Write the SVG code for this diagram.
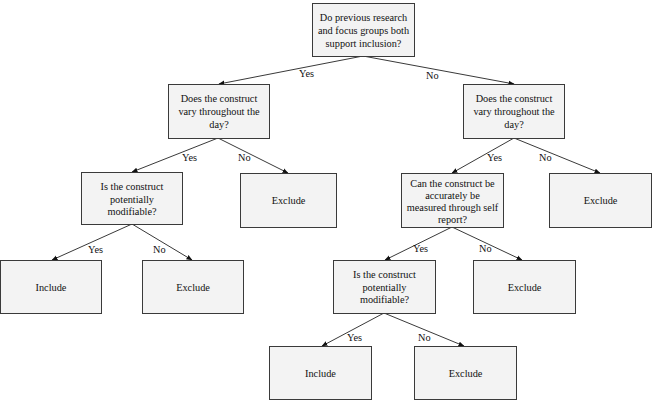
<svg xmlns="http://www.w3.org/2000/svg" width="654" height="403" viewBox="0 0 654 403">
<defs>
<marker id="ah" markerWidth="6" markerHeight="6" refX="5.5" refY="3" orient="auto" markerUnits="userSpaceOnUse">
<path d="M0,0.6 L6,3 L0,5.4 Z" fill="#111"/>
</marker>
<style>
.box{fill:#f3f3f3;stroke:#3a3a3a;stroke-width:1}
text{font-family:'Liberation Serif','Times New Roman',serif;font-size:10.3px;fill:#111}
.t{text-anchor:middle}
.c{stroke:#222;stroke-width:0.9;fill:none;marker-end:url(#ah)}
</style>
</defs>
<rect width="654" height="403" fill="#fff"/>
<g id="connectors">
<line class="c" x1="363" y1="56" x2="219" y2="84"/>
<line class="c" x1="363" y1="56" x2="514" y2="84"/>
<line class="c" x1="218" y1="138" x2="132" y2="172"/>
<line class="c" x1="218" y1="138" x2="288" y2="173"/>
<line class="c" x1="514" y1="138" x2="452" y2="173"/>
<line class="c" x1="514" y1="138" x2="600" y2="173"/>
<line class="c" x1="132" y1="224" x2="52" y2="260"/>
<line class="c" x1="132" y1="224" x2="192" y2="260"/>
<line class="c" x1="452" y1="227" x2="385" y2="260"/>
<line class="c" x1="452" y1="227" x2="522" y2="260"/>
<line class="c" x1="384" y1="313" x2="322" y2="346"/>
<line class="c" x1="384" y1="313" x2="464" y2="346"/>
<text x="299" y="77">Yes</text>
<text x="426" y="79">No</text>
<text x="182" y="161">Yes</text>
<text x="238" y="161">No</text>
<text x="487" y="161">Yes</text>
<text x="539" y="161">No</text>
<text x="88" y="253">Yes</text>
<text x="153" y="253">No</text>
<text x="413" y="252">Yes</text>
<text x="479" y="252">No</text>
<text x="347" y="341">Yes</text>
<text x="418" y="341">No</text>
</g>
<g id="n-root">
<rect class="box" x="312.5" y="3.5" width="102" height="53"/>
<text class="t" x="363.5" y="21">Do previous research</text>
<text class="t" x="363.5" y="34">and focus groups both</text>
<text class="t" x="363.5" y="47">support inclusion?</text>
</g>
<g id="n-vary-left">
<rect class="box" x="168.5" y="84.5" width="101" height="54"/>
<text class="t" x="219" y="102">Does the construct</text>
<text class="t" x="219" y="115">vary throughout the</text>
<text class="t" x="219" y="128">day?</text>
</g>
<g id="n-vary-right">
<rect class="box" x="463.5" y="84.5" width="101" height="54"/>
<text class="t" x="514" y="102">Does the construct</text>
<text class="t" x="514" y="115">vary throughout the</text>
<text class="t" x="514" y="128">day?</text>
</g>
<g id="n-mod-left">
<rect class="box" x="81.5" y="172.5" width="101" height="52"/>
<text class="t" x="132" y="190">Is the construct</text>
<text class="t" x="132" y="203">potentially</text>
<text class="t" x="132" y="215">modifiable?</text>
</g>
<g id="n-excl-1">
<rect class="box" x="240.5" y="173.5" width="96" height="54"/>
<text class="t" x="288.5" y="204">Exclude</text>
</g>
<g id="n-self">
<rect class="box" x="401.5" y="173.5" width="102" height="54"/>
<text class="t" x="452.5" y="187">Can the construct be</text>
<text class="t" x="452.5" y="199">accurately be</text>
<text class="t" x="452.5" y="211">measured through self</text>
<text class="t" x="452.5" y="223">report?</text>
</g>
<g id="n-excl-2">
<rect class="box" x="549.5" y="173.5" width="102" height="54"/>
<text class="t" x="600.5" y="204">Exclude</text>
</g>
<g id="n-incl-1">
<rect class="box" x="0.5" y="260.5" width="101" height="53"/>
<text class="t" x="51" y="291">Include</text>
</g>
<g id="n-excl-3">
<rect class="box" x="142.5" y="260.5" width="101" height="53"/>
<text class="t" x="193" y="291">Exclude</text>
</g>
<g id="n-mod-right">
<rect class="box" x="333.5" y="260.5" width="102" height="53"/>
<text class="t" x="384.5" y="278">Is the construct</text>
<text class="t" x="384.5" y="291">potentially</text>
<text class="t" x="384.5" y="303">modifiable?</text>
</g>
<g id="n-excl-4">
<rect class="box" x="473.5" y="260.5" width="102" height="53"/>
<text class="t" x="524.5" y="291">Exclude</text>
</g>
<g id="n-incl-2">
<rect class="box" x="269.5" y="346.5" width="102" height="53"/>
<text class="t" x="320.5" y="377">Include</text>
</g>
<g id="n-excl-5">
<rect class="box" x="414.5" y="346.5" width="102" height="53"/>
<text class="t" x="465.5" y="377">Exclude</text>
</g>
</svg>
